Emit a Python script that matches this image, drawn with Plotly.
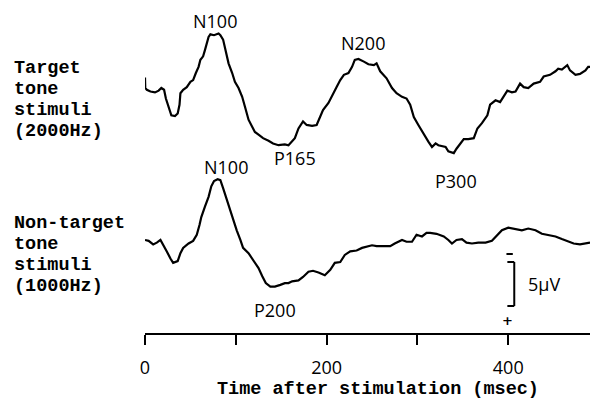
import plotly.graph_objects as go

# ---------------- data (time in ms, amplitude in µV, negative = up) ----------------
target_t = [0, 0.3, 2, 6, 11, 15, 18, 21, 23, 26, 29, 33, 36, 38, 39, 42, 46, 50, 53, 56, 59,
            61, 64, 66, 68, 70, 72, 76, 81, 83, 86, 89, 92, 96, 99, 103, 107, 110, 114, 118,
            121, 125, 130, 136, 141, 147, 154, 158, 160, 165, 169, 174, 178, 184, 189, 193,
            196, 202, 207, 211, 215, 219, 224, 228, 231, 235, 241, 246, 252, 255, 259, 263,
            266, 272, 277, 283, 288, 292, 296, 301, 307, 312, 316, 320, 323, 331, 334, 340,
            343, 351, 356, 362, 366, 371, 377, 380, 386, 391, 399, 404, 408, 413, 417, 422,
            428, 435, 439, 446, 452, 455, 459, 465, 468, 474, 479, 485, 488, 490]
target_uv = [-1.2, 0.0, 0.2, 0.4, 0.5, 0.3, 0.0, 0.2, 1.2, 2.3, 3.1, 3.2, 2.9, 1.9, 0.6, 0.2,
             -0.1, -0.7, -0.9, -1.7, -2.4, -3.2, -3.6, -4.3, -5.1, -5.8, -6.1, -6.0, -6.2,
             -6.0, -5.5, -4.3, -2.8, -1.7, -0.7, 0.0, 1.0, 2.1, 3.6, 4.4, 5.0, 5.3, 5.7, 6.0,
             6.3, 6.5, 6.4, 6.5, 6.3, 5.7, 4.6, 3.8, 4.2, 4.3, 4.2, 3.3, 2.5, 1.7, 0.6, -0.1,
             -0.9, -1.5, -1.7, -2.4, -3.2, -3.3, -3.0, -2.7, -2.6, -2.8, -1.9, -1.5, -1.1,
             0.0, 0.6, 1.0, 1.2, 1.9, 3.3, 4.2, 5.3, 6.1, 6.7, 6.3, 6.5, 6.7, 7.2, 7.4, 6.9,
             5.8, 5.8, 5.7, 4.6, 4.0, 3.1, 1.9, 1.4, 1.6, 0.3, 0.5, 0.4, -0.5, -0.1, 0.0,
             -0.5, -0.7, -1.3, -1.5, -1.9, -2.2, -2.1, -2.6, -2.0, -1.5, -1.6, -2.0, -2.4, -2.4]

nontarget_t = [0, 4, 9, 13, 17, 20, 24, 28, 31, 36, 39, 42, 48, 53, 57, 60, 62, 66, 70, 73,
               76, 80, 83, 86, 89, 93, 97, 101, 105, 108, 114, 119, 125, 129, 133, 138, 143,
               149, 154, 158, 162, 169, 174, 180, 185, 191, 198, 204, 209, 215, 220, 226, 233,
               239, 244, 250, 255, 263, 270, 275, 283, 288, 294, 299, 305, 310, 314, 321, 329,
               334, 338, 343, 349, 354, 360, 367, 375, 382, 388, 393, 400, 408, 415, 422, 430,
               437, 444, 452, 459, 466, 472, 479, 487, 490]
nontarget_uv = [0.0, 0.1, 0.5, 0.3, 0.0, 0.5, 1.3, 2.1, 2.6, 2.4, 1.5, 0.9, 0.4, 0.1, -0.6,
                -1.7, -2.6, -3.8, -4.9, -6.1, -6.7, -6.9, -6.8, -5.9, -4.9, -3.8, -2.3, -1.1,
                0.0, 0.9, 1.5, 2.3, 3.2, 4.1, 4.9, 5.3, 5.3, 5.1, 4.9, 4.9, 4.7, 4.6, 4.2,
                3.6, 3.5, 3.7, 4.0, 3.4, 2.6, 2.5, 1.7, 1.3, 1.2, 0.9, 0.8, 0.6, 0.7, 0.7,
                0.7, 0.4, 0.0, 0.2, 0.2, -0.6, -0.4, -0.8, -0.8, -0.7, -0.4, 0.0, 0.4, 0.0,
                -0.1, 0.3, 0.4, 0.3, 0.3, 0.1, -0.6, -1.1, -1.4, -1.2, -1.1, -1.3, -1.1, -0.7,
                -0.6, -0.4, -0.1, 0.2, 0.4, 0.5, 0.4, 0.3]

x_tick_vals = [0, 100, 200, 300, 400]
x_tick_text = ["0", "", "200", "", "400"]

target_labels = ["Target", "tone", "stimuli", "(2000Hz)"]
nontarget_labels = ["Non-target", "tone", "stimuli", "(1000Hz)"]

# peak labels: (text, time ms, vertical position in plotted units)
peak_labels = [("N100", 77.6, -7.6), ("P165", 165.7, 7.9), ("N200", 240.0, -5.1),
               ("P300", 341.9, 10.6), ("N100", 89.2, 9.0), ("P200", 142.6, 25.2)]

x_title = "Time after stimulation (msec)"
scale_uv = 5
scale_text = "5µV"

# ---------------- layout constants ----------------
UPPER_OFFSET = 0.0
LOWER_OFFSET = 17.27
Y_TOP, Y_BOTTOM = -10.0, 27.84
SANS = "Open Sans, Noto Sans, sans-serif"
MONO = "Liberation Mono, Courier New, monospace"

fig = go.Figure()
fig.add_trace(go.Scatter(x=target_t, y=[v + UPPER_OFFSET for v in target_uv], mode="lines",
                         line=dict(color="black", width=2.2), hoverinfo="skip"))
fig.add_trace(go.Scatter(x=nontarget_t, y=[v + LOWER_OFFSET for v in nontarget_uv], mode="lines",
                         line=dict(color="black", width=2.2), hoverinfo="skip"))

annotations = []
for text, t, u in peak_labels:
    annotations.append(dict(text=text, x=t, y=u, xref="x", yref="y", showarrow=False,
                            xanchor="center", yanchor="middle",
                            font=dict(family=SANS, size=18, color="black")))

left_x = (12 - 145) / 445
for i, s in enumerate(target_labels):
    annotations.append(dict(text="<b>%s</b>" % s, x=left_x, y=Y_TOP + (68 + 21.3 * i) / 8.8,
                            xref="paper", yref="y", showarrow=False, xanchor="left",
                            yanchor="middle", font=dict(family=MONO, size=18.5, color="black")))
for i, s in enumerate(nontarget_labels):
    annotations.append(dict(text="<b>%s</b>" % s, x=left_x, y=Y_TOP + (223.4 + 21.1 * i) / 8.8,
                            xref="paper", yref="y", showarrow=False, xanchor="left",
                            yanchor="middle", font=dict(family=MONO, size=18.5, color="black")))

annotations.append(dict(text="<b>%s</b>" % x_title, x=(377.5 - 145) / 445, y=-(389 - 333) / 333,
                        xref="paper", yref="paper", showarrow=False, xanchor="center",
                        yanchor="middle", font=dict(family=MONO, size=18.5, color="black")))

# scale bar
bar_top = Y_TOP + 262 / 8.8
bar_x = 406.6
bar_left = 399.0
annotations.append(dict(text=scale_text, x=(526 - 145) / 445, y=bar_top + scale_uv / 2,
                        xref="paper", yref="y", showarrow=False, xanchor="left", yanchor="middle",
                        font=dict(family=SANS, size=18, color="black")))
annotations.append(dict(text="<b>+</b>", x=bar_left + 0.5, y=Y_TOP + 320 / 8.8, xref="x", yref="y",
                        showarrow=False, xanchor="center", yanchor="middle",
                        font=dict(family="DejaVu Sans, sans-serif", size=13, color="black")))

shapes = [
    dict(type="line", x0=bar_x, x1=bar_x, y0=bar_top, y1=bar_top + scale_uv, xref="x", yref="y",
         line=dict(color="black", width=2)),
    dict(type="line", x0=bar_left, x1=bar_x, y0=bar_top, y1=bar_top, xref="x", yref="y",
         line=dict(color="black", width=2)),
    dict(type="line", x0=bar_left, x1=bar_x, y0=bar_top + scale_uv, y1=bar_top + scale_uv,
         xref="x", yref="y", line=dict(color="black", width=2)),
    dict(type="line", x0=bar_left - 1, x1=bar_left + 6, y0=Y_TOP + 254 / 8.8, y1=Y_TOP + 254 / 8.8,
         xref="x", yref="y", line=dict(color="black", width=2)),
]

fig.update_layout(
    width=590, height=402,
    margin=dict(l=145, r=0, t=0, b=69, pad=0),
    paper_bgcolor="white", plot_bgcolor="white",
    showlegend=False,
    hovermode=False,
    xaxis=dict(range=[0, 490], showgrid=False, zeroline=False, showline=True,
               linecolor="black", linewidth=2, ticks="outside", ticklen=10, tickwidth=2,
               tickcolor="black", tickvals=x_tick_vals, ticktext=x_tick_text,
               tickfont=dict(family=SANS, size=18, color="black"), ticklabelstandoff=7),
    yaxis=dict(range=[Y_BOTTOM, Y_TOP], visible=False, showgrid=False, zeroline=False),
    annotations=annotations,
    shapes=shapes,
)

fig.write_html("out.html", config={"displayModeBar": False, "staticPlot": True},
               post_script="document.body.style.margin='0';document.body.style.overflow='hidden';")
